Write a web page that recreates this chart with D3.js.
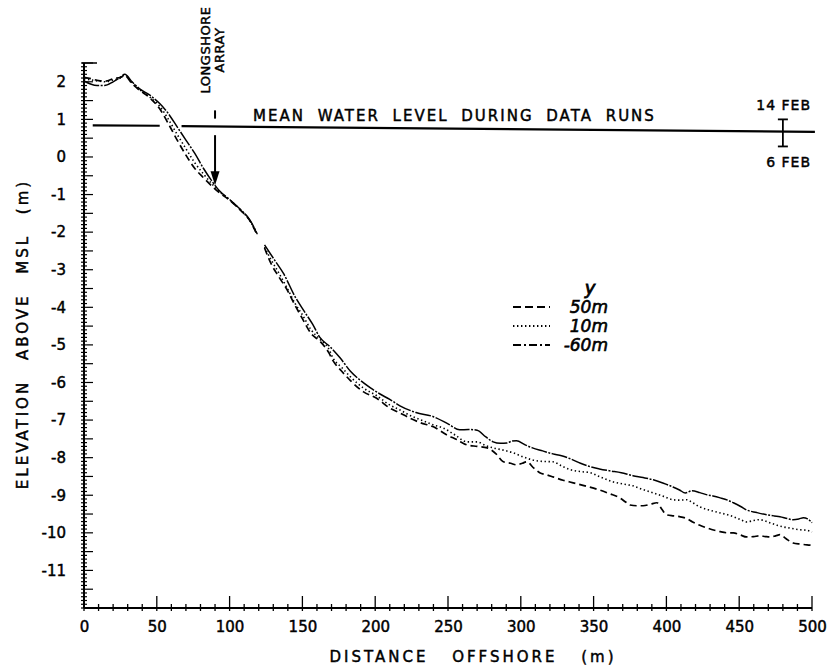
<!DOCTYPE html>
<html><head><meta charset="utf-8">
<script src="https://cdn.jsdelivr.net/npm/d3@7"></script>
<style>body{margin:0;background:#fff}svg{display:block}text{font-family:"DejaVu Sans",sans-serif;font-weight:normal;fill:#000;stroke:#000;stroke-width:0.45px}</style>
</head><body><svg id="c" width="831" height="671"></svg>
<script>
// ---- data ----
const dist60 = [0,4,9,14,20,25,28,33,38,45,52,58,64,70,76,82,88,93,100,107,114,119,121,124,131,137,145,152,157,162,169,176,183,190,197,203,210,217,228,240,250,258,264,270,276,281,286,290.5,294,297,303,308,315,322,328,334,341,347.5,354,361,369,377,384,391,398,404.5,409,413,417.6,423,428,432,437,442,446,451,455,462,469,474,478,483,487,491,494,497,500];
const elev60 = [2.02,1.95,1.9,1.9,2.0,2.12,2.2,2.0,1.82,1.65,1.42,1.15,0.8,0.45,0.1,-0.3,-0.65,-0.9,-1.13,-1.38,-1.68,-2.05,null,-2.34,-2.75,-3.1,-3.72,-4.15,-4.45,-4.8,-5.05,-5.35,-5.7,-5.95,-6.15,-6.3,-6.45,-6.62,-6.8,-6.91,-7.1,-7.26,-7.25,-7.27,-7.45,-7.58,-7.62,-7.61,-7.56,-7.55,-7.66,-7.74,-7.82,-7.9,-7.95,-8.03,-8.15,-8.24,-8.3,-8.35,-8.4,-8.48,-8.53,-8.59,-8.68,-8.78,-8.86,-8.94,-8.88,-8.93,-8.99,-9.02,-9.07,-9.13,-9.2,-9.3,-9.39,-9.46,-9.52,-9.55,-9.57,-9.62,-9.65,-9.63,-9.6,-9.63,-9.73];
const dist10 = [0,5,10,15,20,25,28,33,38,45,52,58,64,70,76,82,88,93,100,107,114,119,121,124,128,134,139,145,150,156,162,168,171,177,183,192,201,210,217,224,231,240,246.6,255,263,270,276,281,288,294.6,301,308,315,322,328,334,341,347.5,355,363,370,377,384,391,398,404.5,409,414,418,423,430,437,442,446,451,455,460,464,471,476,480,486,492,496,500];
const elev10 = [2.08,2.05,2.02,2.0,2.05,2.1,2.18,1.98,1.8,1.6,1.35,1.0,0.6,0.22,-0.15,-0.45,-0.72,-0.92,-1.14,-1.39,-1.7,-2.07,null,-2.4,-2.7,-3.1,-3.45,-3.9,-4.2,-4.6,-4.85,-5.1,-5.35,-5.6,-5.85,-6.15,-6.35,-6.6,-6.73,-6.88,-6.99,-7.13,-7.21,-7.4,-7.58,-7.58,-7.68,-7.74,-7.8,-7.87,-7.97,-8.06,-8.1,-8.11,-8.22,-8.32,-8.37,-8.4,-8.52,-8.64,-8.7,-8.75,-8.85,-8.94,-9.03,-9.12,-9.13,-9.12,-9.2,-9.31,-9.4,-9.47,-9.52,-9.57,-9.65,-9.71,-9.67,-9.65,-9.73,-9.8,-9.84,-9.88,-9.92,-9.93,-9.98];
const dist50 = [0,5,10,15,20,25,28,33,38,45,52,58,64,70,76,82,88,93,100,107,114,119,121,124,128,134,139,145,150,156,162,168,171,177,183,192,201,210,217,224,231,240,249,256,263,270,277,283,288,293,297,301,304,309,313,318,322,329,336,345,354,361,368,372,375,380,384,389,393.5,397,400,405,409,414,418,423,428,433,437,442,446,451,455,460,464,468,471,475,478,482,487,492,496.6,500];
const elev50 = [2.12,2.08,2.03,2.02,2.08,2.12,2.16,1.95,1.78,1.58,1.28,0.88,0.45,0.05,-0.3,-0.55,-0.78,-0.95,-1.15,-1.4,-1.7,-2.08,null,-2.42,-2.8,-3.2,-3.5,-3.95,-4.3,-4.7,-4.9,-5.2,-5.42,-5.7,-5.95,-6.25,-6.42,-6.68,-6.81,-6.95,-7.07,-7.18,-7.39,-7.52,-7.66,-7.7,-7.74,-7.9,-8.11,-8.15,-8.19,-8.15,-8.11,-8.28,-8.4,-8.46,-8.51,-8.6,-8.67,-8.76,-8.86,-8.96,-9.07,-9.18,-9.26,-9.28,-9.28,-9.24,-9.2,-9.38,-9.52,-9.55,-9.57,-9.62,-9.71,-9.8,-9.87,-9.93,-9.97,-10.0,-10.0,-10.06,-10.11,-10.1,-10.08,-10.1,-10.11,-10.08,-10.05,-10.15,-10.27,-10.3,-10.32,-10.33];
const waterDist = [6,52,59,67,502];
const waterElev = [0.84,0.83,null,0.82,0.67];
const febDist = 480;
const febRange = [1.0, 0.28];
const arrayDist = 90;
const xTicks = [0,50,100,150,200,250,300,350,400,450,500];
const yTicks = [2,1,0,-1,-2,-3,-4,-5,-6,-7,-8,-9,-10,-11];
const legendLabels = ["50m","10m","-60m"];

// ---- chart ----
const svg = d3.select("#c");
const x = d3.scaleLinear().domain([0,500]).range([84,812]);
const y = d3.scaleLinear().domain([-12,2.5]).range([608,63]);
const g = svg.append("g");

// y axis: minor ticks (0.1), major (0.5)
g.append("line").attr("x1",x(0)).attr("x2",x(0)).attr("y1",y(2.5)).attr("y2",y(-12)).attr("stroke","#000").attr("stroke-width",2);
d3.range(-120,26).forEach(i=>{
  const v=i/10, yy=y(v);
  const maj = (i%5===0);
  g.append("line").attr("x1",x(0)-3).attr("x2",x(0)+(maj?9:3)).attr("y1",yy).attr("y2",yy).attr("stroke","#000").attr("stroke-width",1.2);
});
g.append("line").attr("x1",x(0)-2).attr("x2",x(0)+13).attr("y1",y(2.5)).attr("y2",y(2.5)).attr("stroke","#000").attr("stroke-width",1.5);
const ya = d3.axisLeft(y).tickValues(yTicks).tickSize(0).tickPadding(18).tickFormat(d=>d<0?"-"+Math.abs(d):d);
const yg = g.append("g").attr("transform",`translate(${x(0)},0)`).call(ya);
yg.select(".domain").remove();
yg.selectAll("text").style("font-size","15px").attr("font-family",null);

// x axis
g.append("line").attr("x1",x(0)).attr("x2",x(500)).attr("y1",y(-12)).attr("y2",y(-12)).attr("stroke","#000").attr("stroke-width",2);
d3.range(0,51).forEach(i=>{
  const v=i*10, xx=x(v);
  const maj = (i%5===0);
  g.append("line").attr("x1",xx).attr("x2",xx).attr("y1",y(-12)-(maj?12:4)).attr("y2",y(-12)+3).attr("stroke","#000").attr("stroke-width",1.3);
});
const xa = d3.axisBottom(x).tickValues(xTicks).tickSize(0).tickPadding(13);
const xg = g.append("g").attr("transform",`translate(0,${y(-12)})`).call(xa);
xg.select(".domain").remove();
xg.selectAll("text").style("font-size","15px").attr("font-family",null);

// axis titles
svg.append("text").attr("x",473).attr("y",662).attr("text-anchor","middle").style("font-size","15px")
  .style("letter-spacing","3px").style("word-spacing","16px").text("DISTANCE OFFSHORE (m)");
svg.append("text").attr("transform","translate(28,334) rotate(-90)").attr("text-anchor","middle").style("font-size","15px")
  .style("letter-spacing","3px").style("word-spacing","12px").text("ELEVATION ABOVE MSL (m)");

// water level
const lineW = d3.line().defined((d,i)=>waterElev[i]!==null).x((d,i)=>x(waterDist[i])).y((d,i)=>y(waterElev[i]));
g.append("path").attr("d",lineW(waterDist)).attr("fill","none").attr("stroke","#000").attr("stroke-width",2.2);
svg.append("text").attr("x",253).attr("y",121).style("font-size","15px").style("letter-spacing","2px").style("word-spacing","6px")
  .text("MEAN WATER LEVEL DURING DATA RUNS");

// Feb marker
const fx = x(febDist);
g.append("line").attr("x1",fx).attr("x2",fx).attr("y1",y(febRange[0])).attr("y2",y(febRange[1])).attr("stroke","#000").attr("stroke-width",1.8);
febRange.forEach(v=>g.append("line").attr("x1",fx-5).attr("x2",fx+5).attr("y1",y(v)).attr("y2",y(v)).attr("stroke","#000").attr("stroke-width",1.8));
svg.append("text").attr("x",811).attr("y",y(febRange[0])-9).attr("text-anchor","end").style("font-size","14px").style("letter-spacing","1px").text("14 FEB");
svg.append("text").attr("x",811).attr("y",y(febRange[1])+21).attr("text-anchor","end").style("font-size","14px").style("letter-spacing","1px").text("6 FEB");

// longshore array
const ax = x(arrayDist);
g.append("line").attr("x1",ax).attr("x2",ax).attr("y1",y(1.24)).attr("y2",y(1.02)).attr("stroke","#000").attr("stroke-width",2);
g.append("line").attr("x1",ax).attr("x2",ax).attr("y1",y(0.58)).attr("y2",y(-0.45)).attr("stroke","#000").attr("stroke-width",2);
g.append("path").attr("d",`M${ax-4.5},${y(-0.38)} L${ax+4.5},${y(-0.38)} L${ax},${y(-0.75)} Z`).attr("fill","#000");
svg.append("text").attr("transform",`translate(${ax-5},50) rotate(-90)`).attr("text-anchor","middle").style("font-size","13px").style("letter-spacing","0.5px").text("LONGSHORE");
svg.append("text").attr("transform",`translate(${ax+9},50) rotate(-90)`).attr("text-anchor","middle").style("font-size","13px").style("letter-spacing","0.5px").text("ARRAY");

// profiles
const series = [
  {d:dist50, e:elev50, dash:"7,4", w:1.7},
  {d:dist10, e:elev10, dash:"1.4,2.6", w:1.6},
  {d:dist60, e:elev60, dash:"16,1.5,2,1.5", w:1.5}
];
series.forEach(s=>{
  const ln = d3.line().defined((v,i)=>s.e[i]!==null).x((v,i)=>x(s.d[i])).y((v,i)=>y(s.e[i])).curve(d3.curveMonotoneX);
  g.append("path").attr("d",ln(s.d)).attr("fill","none").attr("stroke","#000").attr("stroke-width",s.w)
    .attr("stroke-dasharray",s.dash).attr("stroke-linecap","butt");
});

// legend
svg.append("text").attr("x",590).attr("y",294).attr("text-anchor","middle").style("font-size","18px").style("font-style","italic").style("stroke-width","0.8px").text("y");
const legRows = [307,326,345];
legendLabels.forEach((t,i)=>{
  const s = series[i];
  g.append("line").attr("x1",513).attr("x2",550).attr("y1",legRows[i]).attr("y2",legRows[i]).attr("stroke","#000").attr("stroke-width",s.w+0.4).attr("stroke-dasharray",i===2?"8,3,2,3":(i===0?"8,4":s.dash));
  svg.append("text").attr("x",608).attr("y",legRows[i]+6).attr("text-anchor","end").style("font-size","17px").style("font-style","italic").style("stroke-width","0.6px").text(t);
});
</script></body></html>
